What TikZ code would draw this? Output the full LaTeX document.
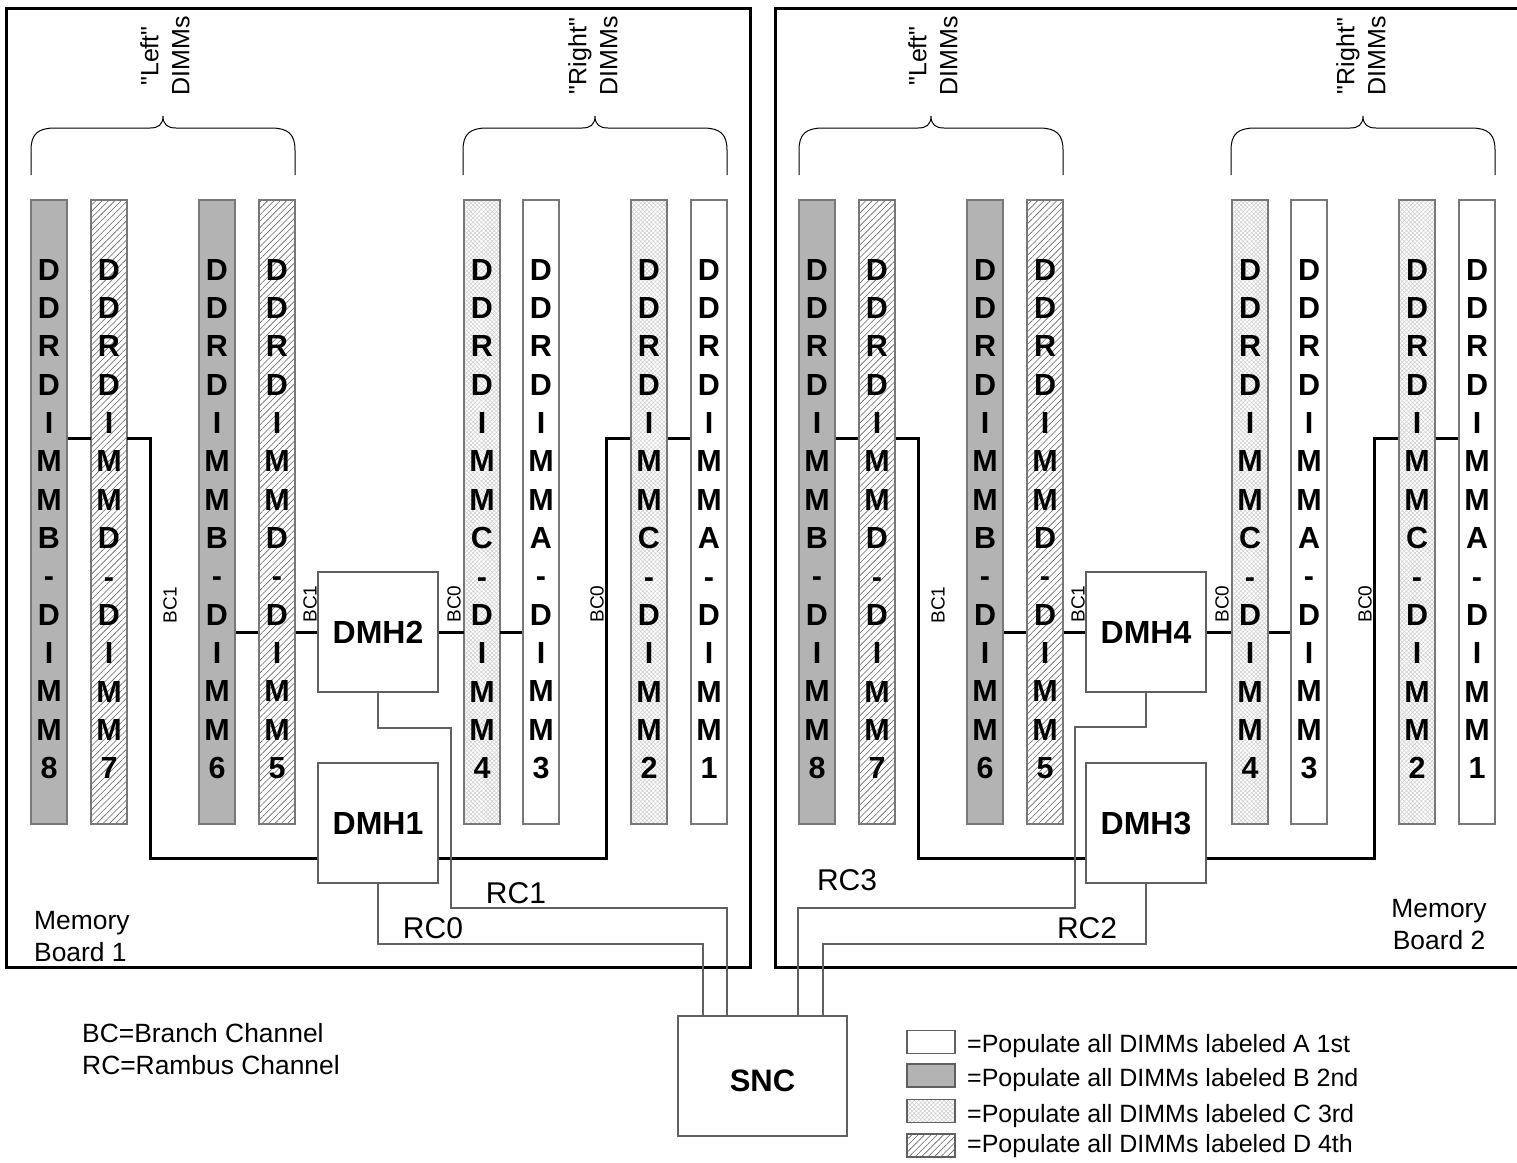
\documentclass[tikz,border=0pt]{standalone}
\usepackage{fontspec}
\setmainfont{Liberation Sans}
\newfontfamily\plainq{Liberation Sans}
\usetikzlibrary{patterns.meta,calc}
\definecolor{lgray}{HTML}{606060}
\definecolor{bfill}{HTML}{B3B3B3}
\tikzset{
  dimmbox/.style={draw=lgray!85, line width=1.2pt, minimum width=36pt, minimum height=624pt, inner sep=0pt},
  fillA/.style={fill=white},
  fillB/.style={fill=bfill},
  fillC/.style={preaction={fill=white}, pattern={Hatch[angle=45,distance=3pt,line width=0.5pt]}, pattern color=gray!40},
  fillD/.style={preaction={fill=white}, pattern={Lines[angle=45,distance=4.5pt,line width=0.6pt]}, pattern color=gray!80!black},
  dimmtext/.style={font=\fontsize{30.5}{38.35}\selectfont\bfseries, align=center, inner sep=0pt},
  chip/.style={draw=lgray, line width=1.3pt, fill=white, minimum width=120pt, minimum height=120pt, inner sep=0pt, font=\fontsize{32}{38}\selectfont\bfseries},
  bus/.style={line width=3pt, line join=miter},
  rc/.style={draw=lgray, line width=1.3pt},
  frame/.style={line width=3pt, line join=miter},
  bclabel/.style={rotate=90, font=\fontsize{19}{22}\selectfont, inner sep=0pt},
  bracetext/.style={rotate=90, align=center, font=\plainq\fontsize{25}{31}\selectfont, inner sep=0pt},
  bracepath/.style={line width=1pt},
  lbl/.style={font=\fontsize{25}{32}\selectfont, inner sep=0pt},
  biglbl/.style={font=\fontsize{26.4}{32}\selectfont, inner sep=0pt},
  rclabel/.style={font=\fontsize{30}{36}\selectfont, inner sep=0pt},
  legbox/.style={draw=lgray, line width=1.2pt, minimum width=48pt, minimum height=23pt, inner sep=0pt}
}
\begin{document}
\begin{tikzpicture}[x=1pt, y=-1pt]
\useasboundingbox (0,0) rectangle (1517,1162);
\fill[white] (0,0) rectangle (1517,1162);

% board frames
\draw[frame] (6,8) rectangle (750,967);
\draw[frame] (1522,8) -- (775,8) -- (775,967) -- (1522,967);

\foreach \off/\pre/\up/\lo in {0/A-/2/1, 768/B-/4/3}{
\begin{scope}[xshift=\off pt, name prefix=\pre]
  % braces
  \draw[bracepath] (31,175) -- (31,150) .. controls (31,134) and (38,128) .. (55,128) -- (150,128) .. controls (158,128) and (163,125) .. (163,116) .. controls (163,125) and (168,128) .. (176,128) -- (271,128) .. controls (288,128) and (295,134) .. (295,150) -- (295,175);
  \draw[bracepath, xshift=432pt] (31,175) -- (31,150) .. controls (31,134) and (38,128) .. (55,128) -- (150,128) .. controls (158,128) and (163,125) .. (163,116) .. controls (163,125) and (168,128) .. (176,128) -- (271,128) .. controls (288,128) and (295,134) .. (295,150) -- (295,175);
  \node[bracetext] (lefttxt) at (165,56) {"Left"\\DIMMs};
  \node[bracetext] (righttxt) at (593,56) {"Right"\\DIMMs};

  % DIMMs
  \foreach \n/\x/\t/\f in {8/49/B/B, 7/109/D/D, 6/217/B/B, 5/277/D/D, 4/482/C/C, 3/541/A/A, 2/649/C/C, 1/709/A/A}{
    \node[dimmbox, fill\f] (d\n) at (\x,512) {};
    \node[dimmtext] (t\n) at (\x,519) {D\\D\\R\\D\\I\\M\\M\\\t\\-\\D\\I\\M\\M\\\n};
  }

  % hubs
  \node[chip] (up) at (378,632) {DMH\up};
  \node[chip] (lo) at (378,823) {DMH\lo};

  % bus coordinates
  \coordinate (yA) at (0,438);
  \coordinate (yB) at (0,632);
  \coordinate (yC) at (0,858);
  \coordinate (xl) at (150,0);
  \coordinate (xr) at (606,0);

  \draw[bus] (d8.east |- yA) -- (d7.west |- yA);
  \draw[bus] (d7.east |- yA) -- (xl |- yA) -- (xl |- yC) -- (lo.west |- yC);
  \draw[bus] (lo.east |- yC) -- (xr |- yC) -- (xr |- yA) -- (d2.west |- yA);
  \draw[bus] (d2.east |- yA) -- (d1.west |- yA);
  \draw[bus] (d6.east |- yB) -- (d5.west |- yB);
  \draw[bus] (d5.east |- yB) -- (up.west);
  \draw[bus] (up.east) -- (d4.west |- yB);
  \draw[bus] (d4.east |- yB) -- (d3.west |- yB);

  \node[bclabel] (bca) at (170,605) {BC1};
  \node[bclabel] (bcb) at (310,604) {BC1};
  \node[bclabel] (bcc) at (454,604) {BC0};
  \node[bclabel] (bcd) at (597,604) {BC0};
\end{scope}
}

% SNC
\node[chip] (snc) at (762.5,1076) [minimum width=169pt, minimum height=120pt] {};
\node[font=\fontsize{31}{36}\selectfont\bfseries] (snctxt) at (762.5,1081) {SNC};

% Rambus channels
\coordinate (k0) at (703,944);
\coordinate (k1) at (727,908);
\coordinate (k3) at (798,908);
\coordinate (k2) at (823,944);
\draw[rc] (A-up.south) |- (451,728) |- (k1) -- (k1 |- snc.north);
\draw[rc] (A-lo.south) |- (k0) -- (k0 |- snc.north);
\draw[rc] (B-up.south) |- (1075,727) |- (k3) -- (k3 |- snc.north);
\draw[rc] (B-lo.south) |- (k2) -- (k2 |- snc.north);

\node[rclabel] (rc1) at (516,893) {RC1};
\node[rclabel] (rc0) at (433,928) {RC0};
\node[rclabel] (rc3) at (847,880) {RC3};
\node[rclabel] (rc2) at (1087,928) {RC2};

% board labels
\node[biglbl, align=left, anchor=west] (mb1) at (34,937) {Memory\\Board 1};
\node[biglbl, align=center] (mb2) at (1439,925) {Memory\\Board 2};

% key
\node[biglbl, anchor=west] (bc) at (82,1033) {BC=Branch Channel};
\node[biglbl, anchor=west] (rck) at (82,1065) {RC=Rambus Channel};

% legend
\node[legbox, fillA] (la) at (931,1042) {};
\node[legbox, fillB] (lb) at (931,1075.5) {};
\node[legbox, fillC] (lc) at (931,1111) {};
\node[legbox, fillD] (ld) at (931,1145.5) {};
\node[lbl, anchor=west] (ta) at (967,1046) {=Populate all DIMMs labeled A 1st};
\node[lbl, anchor=west] (tb) at (967,1080) {=Populate all DIMMs labeled B 2nd};
\node[lbl, anchor=west] (tc) at (967,1116) {=Populate all DIMMs labeled C 3rd};
\node[lbl, anchor=west] (td) at (967,1146) {=Populate all DIMMs labeled D 4th};
\end{tikzpicture}
\end{document}
